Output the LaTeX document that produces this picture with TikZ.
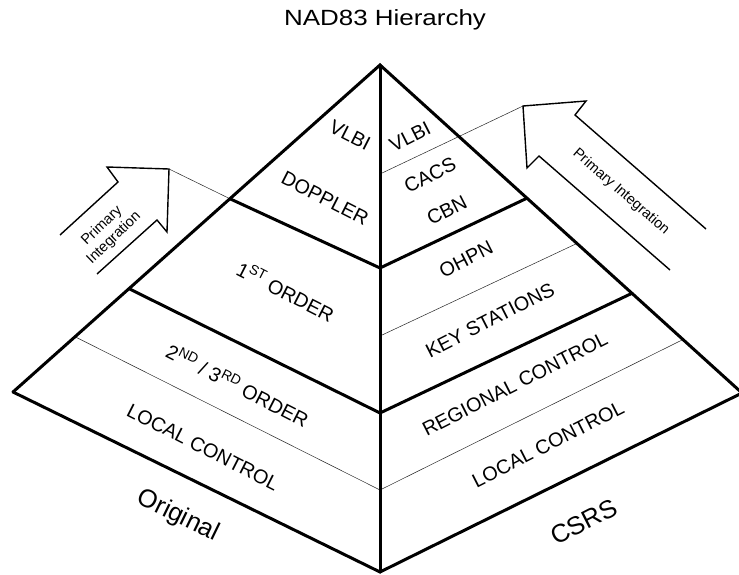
\documentclass[tikz,border=0pt]{standalone}
\usepackage{fontspec}
\setmainfont{Liberation Sans}
\usetikzlibrary{calc}
\begin{document}
\begin{tikzpicture}[x=1pt,y=-1pt,
  heavy/.style={line width=3pt, line join=miter, line cap=round},
  fine/.style={line width=0.5pt, black!85},
  arrowline/.style={line width=1.4pt, line join=miter},
  lbl/.style={font=\fontsize{19.8}{22}\selectfont, inner sep=0pt},
  biglbl/.style={font=\fontsize{25.5}{28}\selectfont, inner sep=0pt},
  arrowlbl/.style={font=\fontsize{14.5}{17}\selectfont, inner sep=0pt, align=center}]
\useasboundingbox (0,0) rectangle (739,575);
% main vertices
\coordinate (A) at (380,65);
\coordinate (B) at (380,572);
\coordinate (L) at (13,392);
\coordinate (R) at (742,393);
% points on the central line
\coordinate (M0) at (380,174);
\coordinate (M1) at (380,268);
\coordinate (Mk) at (380,336);
\coordinate (M2) at (380,413);
\coordinate (M3) at (380,490);
% points on the left edge
\coordinate (L1) at ($(A)!0.409!(L)$);
\coordinate (L2) at ($(A)!0.684!(L)$);
\coordinate (L3) at ($(A)!0.831!(L)$);
% points on the right edge
\coordinate (R0) at ($(A)!0.218!(R)$);
\coordinate (R1) at ($(A)!0.406!(R)$);
\coordinate (R2) at ($(A)!0.544!(R)$);
\coordinate (R3) at ($(A)!0.696!(R)$);
\coordinate (R4) at ($(A)!0.837!(R)$);
% left arrow
\coordinate (la1) at (60,235);
\coordinate (la2) at (118,182);
\coordinate (la3) at (107,167);
\coordinate (laT) at (169,169);
\coordinate (la5) at (167,232);
\coordinate (la6) at (157,220);
\coordinate (la7) at (97,274);
% right arrow
\coordinate (ra1) at (706,229);
\coordinate (ra2) at (575,115);
\coordinate (ra3) at (586,101);
\coordinate (raT) at (523,106);
\coordinate (ra5) at (527,168);
\coordinate (ra6) at (539,156);
\coordinate (ra7) at (670,270);

% thin rules
\draw[fine] (laT) -- (L1);
\draw[fine] (L3) -- (M3);
\draw[fine] (raT) -- (R0) -- (M0);
\draw[fine] (Mk) -- (R2);
\draw[fine] (M3) -- (R4);

% arrows
\draw[arrowline] (la1) -- (la2) -- (la3) -- (laT) -- (la5) -- (la6) -- (la7);
\draw[arrowline] (ra1) -- (ra2) -- (ra3) -- (raT) -- (ra5) -- (ra6) -- (ra7);

% pyramid outline
\draw[heavy] (L) -- (A) -- (R);
\draw[heavy] (L) -- (B) -- (R);
\draw[heavy] (A) -- (B);
\draw[heavy] (L1) -- (M1) -- (R1);
\draw[heavy] (L2) -- (M2) -- (R3);

% title
\node (title) at (385,20) {\scalebox{1.18}[1]{\fontsize{22}{26}\selectfont NAD83 Hierarchy}};

% left face labels
\node[lbl, rotate=-27] (lvlbi) at (350,135) {VLBI};
\node[lbl, rotate=-27] (ldop) at (325,198) {DOPPLER};
\node[lbl, rotate=-27] (l1st) at (286,291) {1\textsuperscript{ST} ORDER};
\node[lbl, rotate=-27] (l2nd) at (238,385) {2\textsuperscript{ND} / 3\textsuperscript{RD} ORDER};
\node[lbl, rotate=-27] (lloc) at (203,447) {LOCAL CONTROL};
\node[biglbl, rotate=-26] (orig) at (178,516) {Original};

% right face labels
\node[lbl, rotate=27] (rvlbi) at (410,137) {VLBI};
\node[lbl, rotate=27] (rcacs) at (430,175) {CACS};
\node[lbl, rotate=27] (rcbn) at (447,210) {CBN};
\node[lbl, rotate=27] (rohpn) at (466,259) {OHPN};
\node[lbl, rotate=27] (rkey) at (490,320) {KEY STATIONS};
\node[lbl, rotate=27] (rreg) at (515,384) {REGIONAL CONTROL};
\node[lbl, rotate=27] (rloc) at (548,444) {LOCAL CONTROL};
\node[biglbl, rotate=27] (csrs) at (584,522) {CSRS};

% arrow labels
\node[arrowlbl, rotate=44] (lpi) at (108,232) {Primary\\Integration};
\node[arrowlbl, rotate=-41] (rpi) at (621,192) {Primary Integration};
\end{tikzpicture}
\end{document}
